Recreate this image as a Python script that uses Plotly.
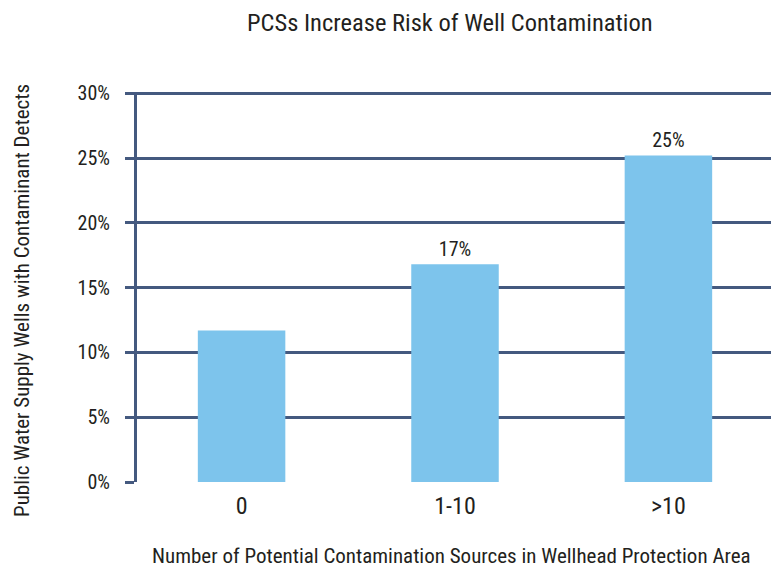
import plotly.graph_objects as go

categories = ["0", "1-10", ">10"]
values = [11.7, 16.8, 25.2]
bar_labels = ["", "17%", "25%"]
y_ticks = [0, 5, 10, 15, 20, 25, 30]
y_tick_text = ["0%", "5%", "10%", "15%", "20%", "25%", "30%"]

FONT = "Roboto Condensed, DejaVu Sans Condensed, sans-serif"
GRID = "#44597f"
TXT = "#231f20"
W = 400

fig = go.Figure(go.Bar(
    x=categories, y=values, text=bar_labels, textposition="outside",
    textfont=dict(family=FONT, size=20, color=TXT, weight=W),
    marker=dict(color="#7dc4ec", line=dict(width=0)),
    cliponaxis=False, hoverinfo="skip",
))

fig.update_layout(
    width=771, height=561,
    margin=dict(l=129, r=6, t=84, b=87),
    paper_bgcolor="white", plot_bgcolor="white",
    bargap=0.59, showlegend=False,
    font=dict(family=FONT, color=TXT, weight=W),
    title=dict(text="PCSs Increase Risk of Well Contamination", x=0.573, xanchor="center",
               y=0.975, yanchor="middle", font=dict(family=FONT, size=24.5, color=TXT, weight=W)),
    xaxis=dict(range=[-0.49, 2.49], showline=False, showgrid=False, zeroline=False,
               ticks="", tickfont=dict(family=FONT, size=24, color=TXT, weight=W),
               ticklabelstandoff=7),
    yaxis=dict(range=[0, 30.1], tickvals=y_ticks, ticktext=y_tick_text,
               showgrid=True, gridcolor=GRID, gridwidth=3, zeroline=False,
               showline=True, linecolor=GRID, linewidth=3,
               ticks="outside", ticklen=9, tickwidth=3, tickcolor=GRID,
               ticklabelstandoff=11,
               tickfont=dict(family=FONT, size=20, color=TXT, weight=W)),
    annotations=[
        dict(text="Number of Potential Contamination Sources in Wellhead Protection Area",
             xref="paper", yref="paper", x=(443 - 129) / 636, y=-(548 - 474) / 390,
             xanchor="center", yanchor="middle", showarrow=False,
             font=dict(family=FONT, size=21, color=TXT, weight=W)),
        dict(text="Public Water Supply Wells with Contaminant Detects",
             xref="paper", yref="paper", x=-(129 - 14) / 636, y=1 - (293 - 84) / 390,
             xanchor="center", yanchor="middle", textangle=-90, showarrow=False,
             font=dict(family=FONT, size=21, color=TXT, weight=W)),
    ],
)

fig.write_html("out.html")
